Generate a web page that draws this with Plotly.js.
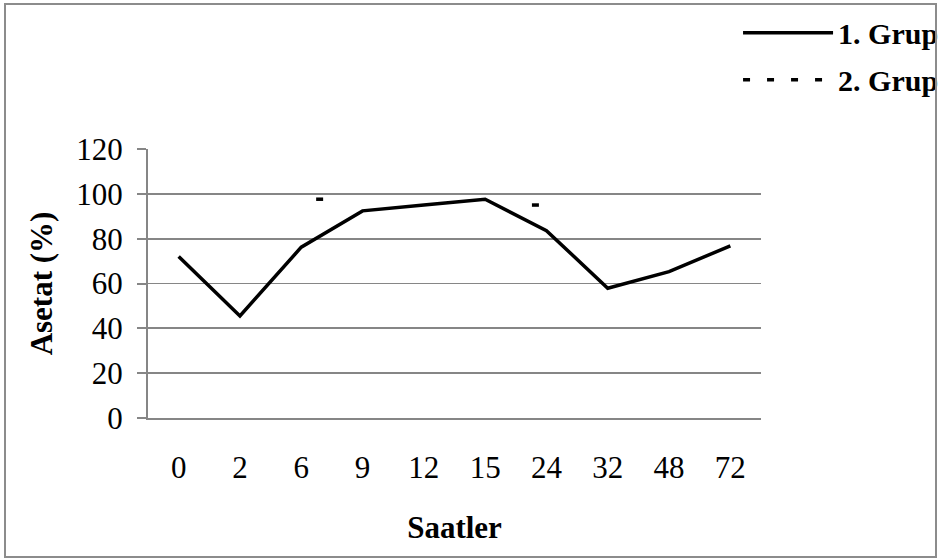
<!DOCTYPE html>
<html>
<head>
<meta charset="utf-8">
<script src="https://cdn.plot.ly/plotly-3.0.1.min.js"></script>
<style>
  html, body { margin: 0; padding: 0; background: #fff; }
  #wrap { position: relative; width: 939px; height: 560px; }
  #chart { position: absolute; left: 0; top: 0; width: 939px; height: 560px; }
  #frame { position: absolute; left: 4px; top: 3px; right: 2px; bottom: 2px;
           border: 2px solid #8c8c8c; pointer-events: none; }
</style>
</head>
<body>
<div id="wrap">
  <div id="chart"></div>
  <div id="frame"></div>
</div>
<script>
// Sampling hours (category labels on the x axis)
const hours = ['0', '2', '6', '9', '12', '15', '24', '32', '48', '72'];

// 1. Grup: acetate (%) at each sampling hour
const grup1 = [72.0, 45.5, 76.2, 92.4, 95.0, 97.6, 83.6, 57.9, 65.3, 76.8];

// 2. Grup: visible dash marks (position in category units, value %)
const grup2Pos = [2.30, 5.82];
const grup2 = [97.6, 95.0];

const FONT = 'Liberation Serif, Times New Roman, serif';
const GRID = '#868686';
const FS = 31;

const idx = hours.map((_, i) => i);
const bounds = hours.concat(['']).map((_, i) => i - 0.5);

// each dash mark is a short horizontal stroke centred on its position
const half = 0.057;
const g2x = [], g2y = [];
grup2Pos.forEach((p, i) => {
  g2x.push(p - half, p + half, null);
  g2y.push(grup2[i], grup2[i], null);
});

const traces = [
  {
    x: idx, y: grup1, name: '1. Grup', type: 'scatter', mode: 'lines',
    line: { color: '#000', width: 3.5 }, legendgroup: 'g1', hoverinfo: 'y'
  },
  {
    x: g2x, y: g2y, name: '2. Grup', type: 'scatter', mode: 'lines',
    line: { color: '#000', width: 3.5, dash: '7px,17px' }, legendgroup: 'g2',
    connectgaps: false, hoverinfo: 'y'
  }
];

const layout = {
  width: 939, height: 560,
  margin: { l: 147.5, r: 177.5, t: 149.3, b: 142.3, autoexpand: false },
  paper_bgcolor: '#fff', plot_bgcolor: '#fff',
  font: { family: FONT, color: '#000', size: FS },
  showlegend: true,
  legend: {
    xref: 'container', yref: 'container',
    x: 0.786, y: 0.988, xanchor: 'left', yanchor: 'top',
    font: { family: FONT, size: 30, weight: 'bold', color: '#000' },
    itemwidth: 90, tracegroupgap: 5, bgcolor: 'rgba(0,0,0,0)'
  },
  xaxis: {
    range: [-0.5, 9.5], tickmode: 'array', tickvals: idx, ticktext: hours,
    ticks: '', showgrid: false, zeroline: false,
    showline: true, linecolor: GRID, linewidth: 2,
    ticklabelstandoff: 21,
    tickfont: { family: FONT, size: FS, color: '#000' },
    title: { text: 'Saatler', standoff: 32,
             font: { family: FONT, size: FS, weight: 'bold', color: '#000' } },
    fixedrange: true
  },
  xaxis2: {
    overlaying: 'x', anchor: 'y', side: 'bottom', matches: 'x',
    range: [-0.5, 9.5], tickmode: 'array', tickvals: bounds,
    ticks: 'outside', ticklen: 8.5, tickwidth: 2, tickcolor: GRID,
    showticklabels: false, showgrid: false, zeroline: false, showline: false,
    fixedrange: true
  },
  yaxis: {
    range: [0, 120], dtick: 20, tick0: 0,
    ticks: 'outside', ticklen: 9, tickwidth: 2, tickcolor: GRID,
    showgrid: true, gridcolor: GRID, gridwidth: 1.7, zeroline: false,
    showline: true, linecolor: GRID, linewidth: 2,
    ticklabelstandoff: 8,
    tickfont: { family: FONT, size: FS, color: '#000' },
    title: { text: 'Asetat (%)', standoff: 14,
             font: { family: FONT, size: FS, weight: 'bold', color: '#000' } },
    fixedrange: true
  }
};

Plotly.newPlot('chart', traces, layout, { displayModeBar: false, staticPlot: true });
</script>
</body>
</html>
